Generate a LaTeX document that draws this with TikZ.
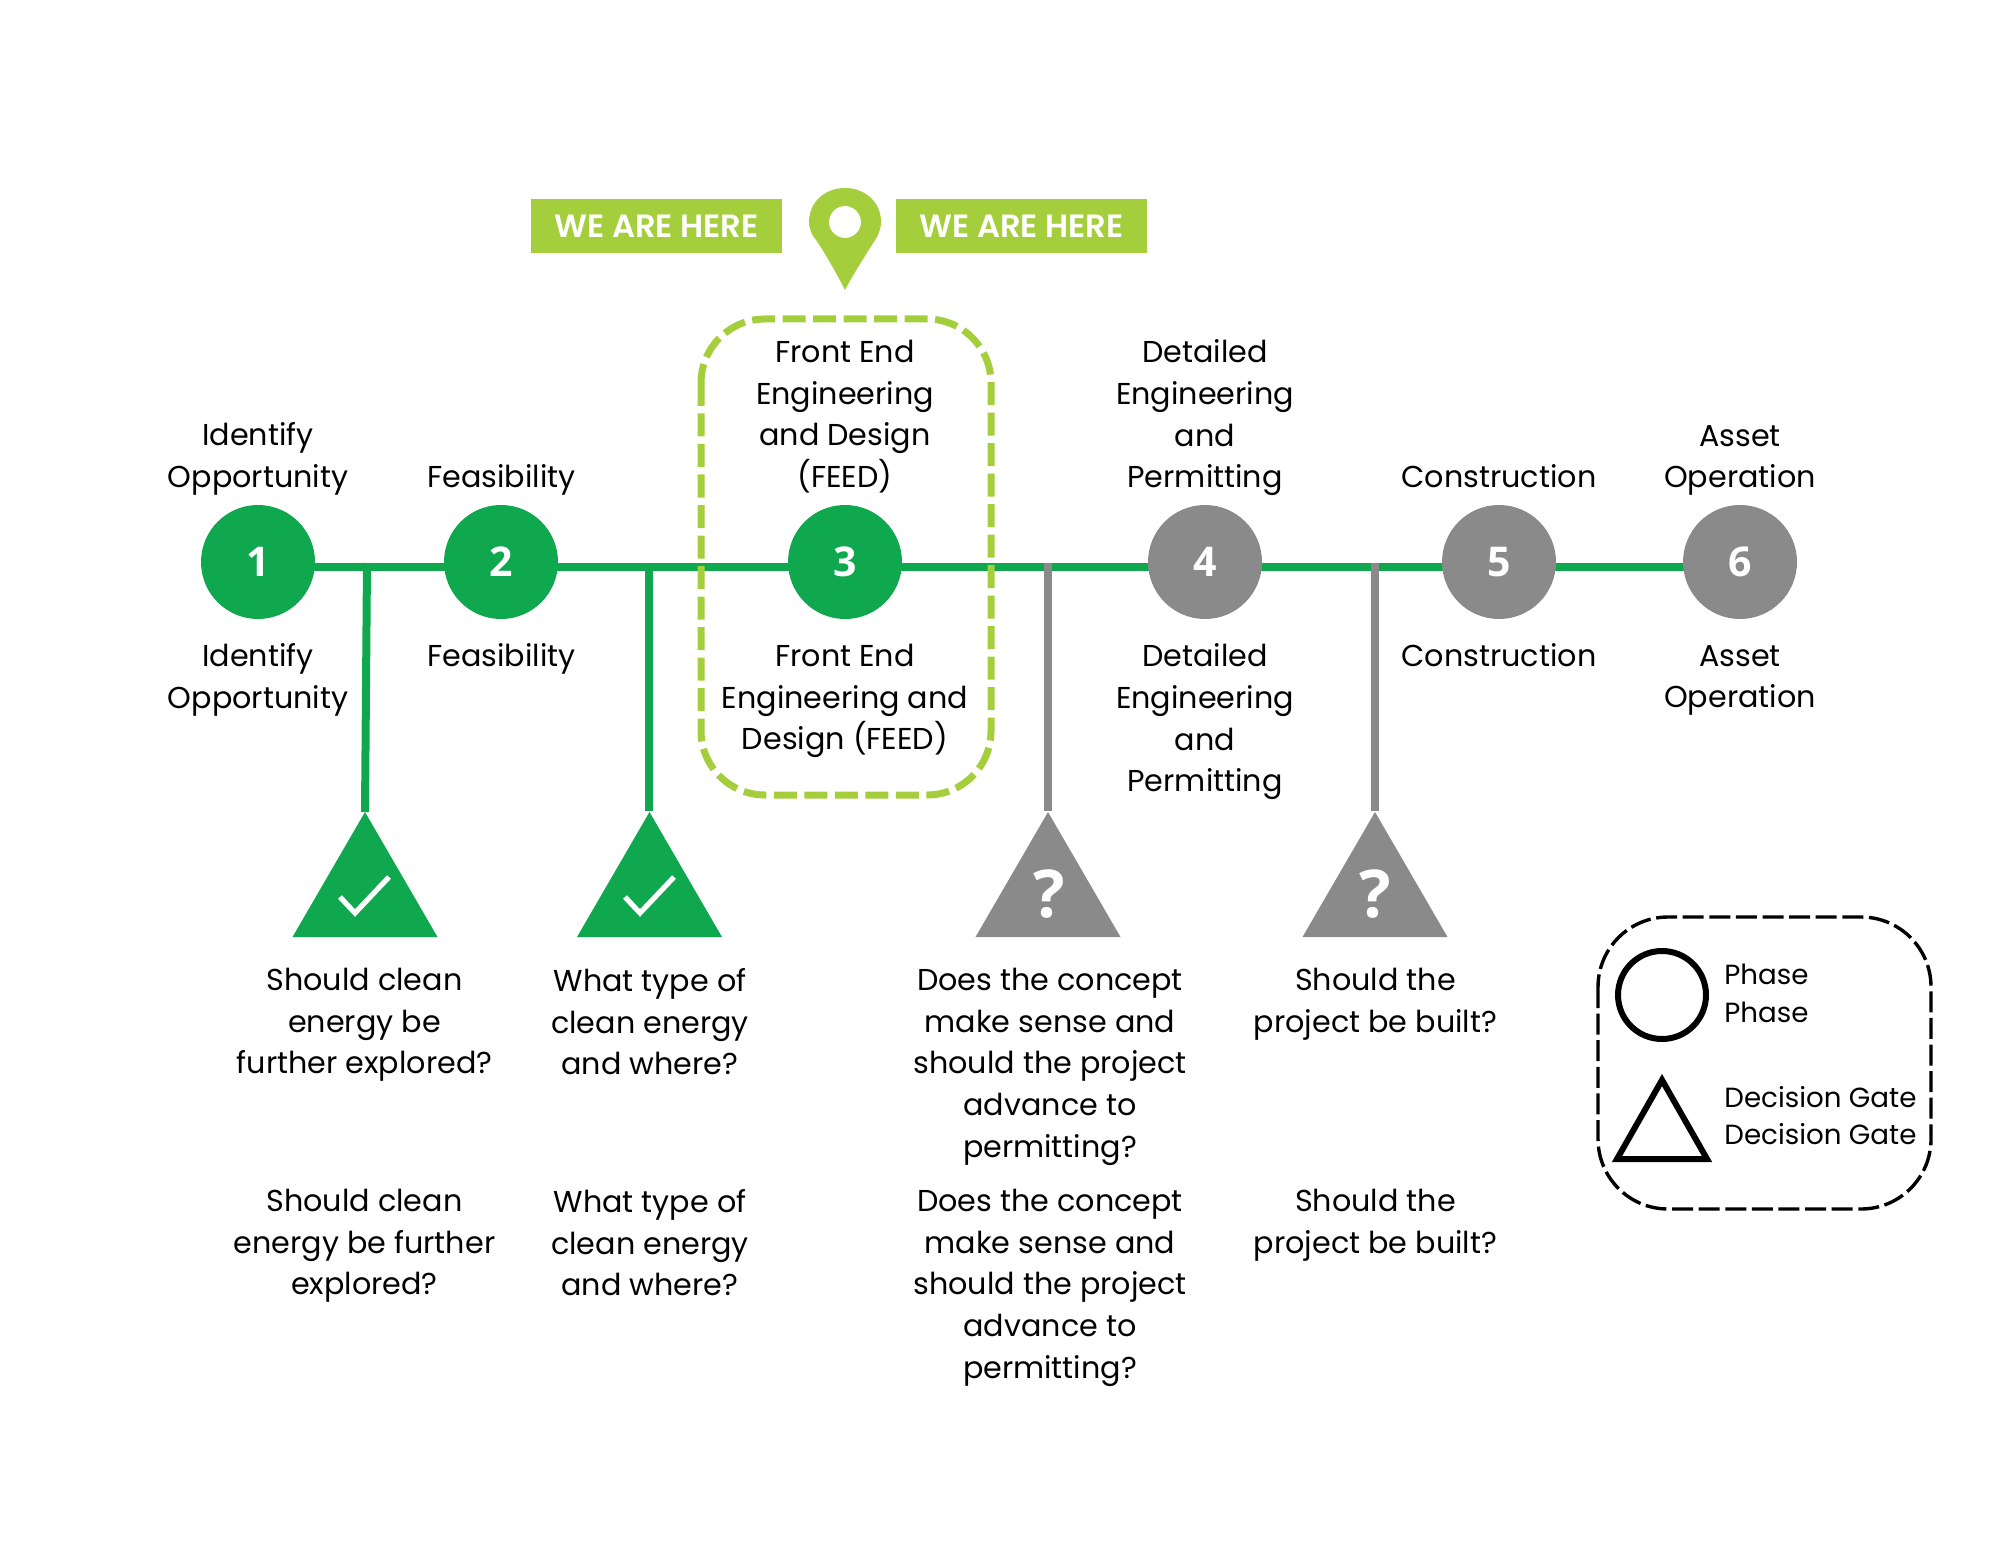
\documentclass[tikz,border=0pt]{standalone}
\usepackage{fontspec}
\setmainfont{Poppins}
\newfontfamily\psb[UprightFont={* SemiBold}]{Poppins}
\newfontfamily\lib{Open Sans}
\usetikzlibrary{backgrounds}
\definecolor{pgreen}{HTML}{10A84F}
\definecolor{pgrey}{HTML}{8A8A8A}
\definecolor{plime}{HTML}{A4CE3C}
\tikzset{
  x=0.5pt,y=-0.5pt,
  phase/.style={circle,minimum size=57pt,inner sep=0pt,text=white,font=\lib\fontsize{20.5}{21}\selectfont\bfseries},
  greenp/.style={phase,fill=pgreen},
  greyp/.style={phase,fill=pgrey},
  txt/.style={inner sep=0pt,anchor=north,align=center,text=black,font=\fontsize{15.1}{20.8}\selectfont,execute at begin node=\strut},
  legtxt/.style={inner sep=0pt,anchor=west,text=black,font=\fontsize{13.85}{14}\selectfont},
  here/.style={fill=plime,text=white,inner sep=0pt,minimum width=125.5pt,minimum height=27pt,font=\psb\fontsize{16.1}{16.1}\selectfont},
  conn/.style={line width=4pt},
  main/.style={line width=4pt,pgreen},
  tick/.style={white,line width=2.6pt,miter limit=10},
  qm/.style={inner sep=0pt,text=white,font=\lib\fontsize{33}{33}\selectfont\bfseries},
  limebox/.style={draw=plime,line width=3.5pt,rounded corners=32pt,dash pattern=on 11.5pt off 3.75pt},
  legbox/.style={draw=black,line width=1.7pt,rounded corners=35pt,dash pattern=on 10.5pt off 2.8pt},
}
\newcommand{\tr}[3]{\fill[#3] (#1,#2) -- ++(72.5,125) -- ++(-145,0) -- cycle;}
\begin{document}
\begin{tikzpicture}
\useasboundingbox (0,0) rectangle (2000,1545);
% phases
\node[greenp] (p1) at (258,562) {1};
\node[greenp] (p2) at (501,562) {2};
\node[greenp] (p3) at (845,562) {3};
\node[greyp] (p4) at (1205,562) {4};
\node[greyp] (p5) at (1499,562) {5};
\node[greyp] (p6) at (1740,562) {6};
% apexes
\coordinate (t1) at (365,812);
\coordinate (t2) at (649,811);
\coordinate (t3) at (1048,811);
\coordinate (t4) at (1375,811);
\coordinate (b1) at (367,563);
\coordinate (b2) at (649,563);
\coordinate (b3) at (1048,563);
\coordinate (b4) at (1375,563);
\begin{scope}[on background layer]
  \draw[main] ([yshift=-2.5pt]p1.center) -- ([yshift=-2.5pt]p2.center);
  \draw[main] ([yshift=-2.5pt]p2.center) -- ([yshift=-2.5pt]p3.center);
  \draw[main] ([yshift=-2.5pt]p3.center) -- ([yshift=-2.5pt]p4.center);
  \draw[main] ([yshift=-2.5pt]p4.center) -- ([yshift=-2.5pt]p5.center);
  \draw[main] ([yshift=-2.5pt]p5.center) -- ([yshift=-2.5pt]p6.center);
\end{scope}
\draw[conn,pgreen] (b1) -- (t1);
\draw[conn,pgreen] (b2) -- (t2);
\draw[conn,pgrey] (b3) -- (t3);
\draw[conn,pgrey] (b4) -- (t4);
% triangles
\tr{365}{812}{pgreen}
\tr{649.5}{812}{pgreen}
\tr{1048}{812}{pgrey}
\tr{1375}{812}{pgrey}
\draw[tick] (340,897) -- (355,913) -- (389,877);
\draw[tick] (625,897) -- (640,913) -- (674,877);
\node[qm] (q1) at (1049,894) {?};
\node[qm] (q2) at (1375,894) {?};
% lime box
\draw[limebox] (701,319) rectangle (991,795);
% pin
\fill[plime,even odd rule] (845,290) .. controls (838,276) and (820,244) .. (813,236)
  .. controls (809,228) and (809,224) .. (809,222)
  .. controls (809,202) and (825,188) .. (845,188)
  .. controls (865,188) and (881,202) .. (881,222)
  .. controls (881,226) and (880,231) .. (877,237)
  .. controls (870,248) and (852,276) .. (845,290) -- cycle
  (845,222) circle[radius=8pt];
\node[here] (h1) at (656.5,226) {WE ARE HERE};
\node[here] (h2) at (1021.5,226) {WE ARE HERE};
% top labels
\node[txt] (a1) at (258,422.5) {Identify\\Opportunity};
\node[txt] (a2) at (501.5,458) {Feasibility};
\node[txt] (a3) at (845,340) {Front End\\Engineering\\and Design\\(FEED)};
\node[txt] (a4) at (1205,339.5) {Detailed\\Engineering\\and\\Permitting};
\node[txt] (a5) at (1499,458) {Construction};
\node[txt] (a6) at (1740,425) {Asset\\Operation};
% bottom labels
\node[txt] (c1) at (258,643.5) {Identify\\Opportunity};
\node[txt] (c2) at (501.5,637) {Feasibility};
\node[txt] (c3) at (845,644) {Front End\\Engineering and\\Design (FEED)};
\node[txt] (c4) at (1205,643.5) {Detailed\\Engineering\\and\\Permitting};
\node[txt] (c5) at (1499,637) {Construction};
\node[txt] (c6) at (1740,645) {Asset\\Operation};
% questions
\node[txt] (d1) at (364.5,968) {Should clean\\energy be\\further explored?};
\node[txt] (d2) at (650,968) {What type of\\clean energy\\and where?};
\node[txt] (d3) at (1050,968) {Does the concept\\make sense and\\should the project\\advance to\\permitting?};
\node[txt] (d4) at (1375.5,968) {Should the\\project be built?};
\node[txt] (e1) at (364.5,1189) {Should clean\\energy be further\\explored?};
\node[txt] (e2) at (650,1189) {What type of\\clean energy\\and where?};
\node[txt] (e3) at (1050,1189) {Does the concept\\make sense and\\should the project\\advance to\\permitting?};
\node[txt] (e4) at (1375.5,1189) {Should the\\project be built?};
% legend
\draw[legbox] (1598,917) rectangle (1931,1209);
\draw[black,line width=3pt] (1662,995) circle[radius=22pt];
\draw[black,line width=3pt,line join=miter] (1662,1080) -- (1707,1159) -- (1617,1159) -- cycle;
\node[legtxt] (l1) at (1724,974) {Phase};
\node[legtxt] (l2) at (1724,1012) {Phase};
\node[legtxt] (l3) at (1724,1097) {Decision Gate};
\node[legtxt] (l4) at (1724,1134) {Decision Gate};
\end{tikzpicture}
\end{document}
